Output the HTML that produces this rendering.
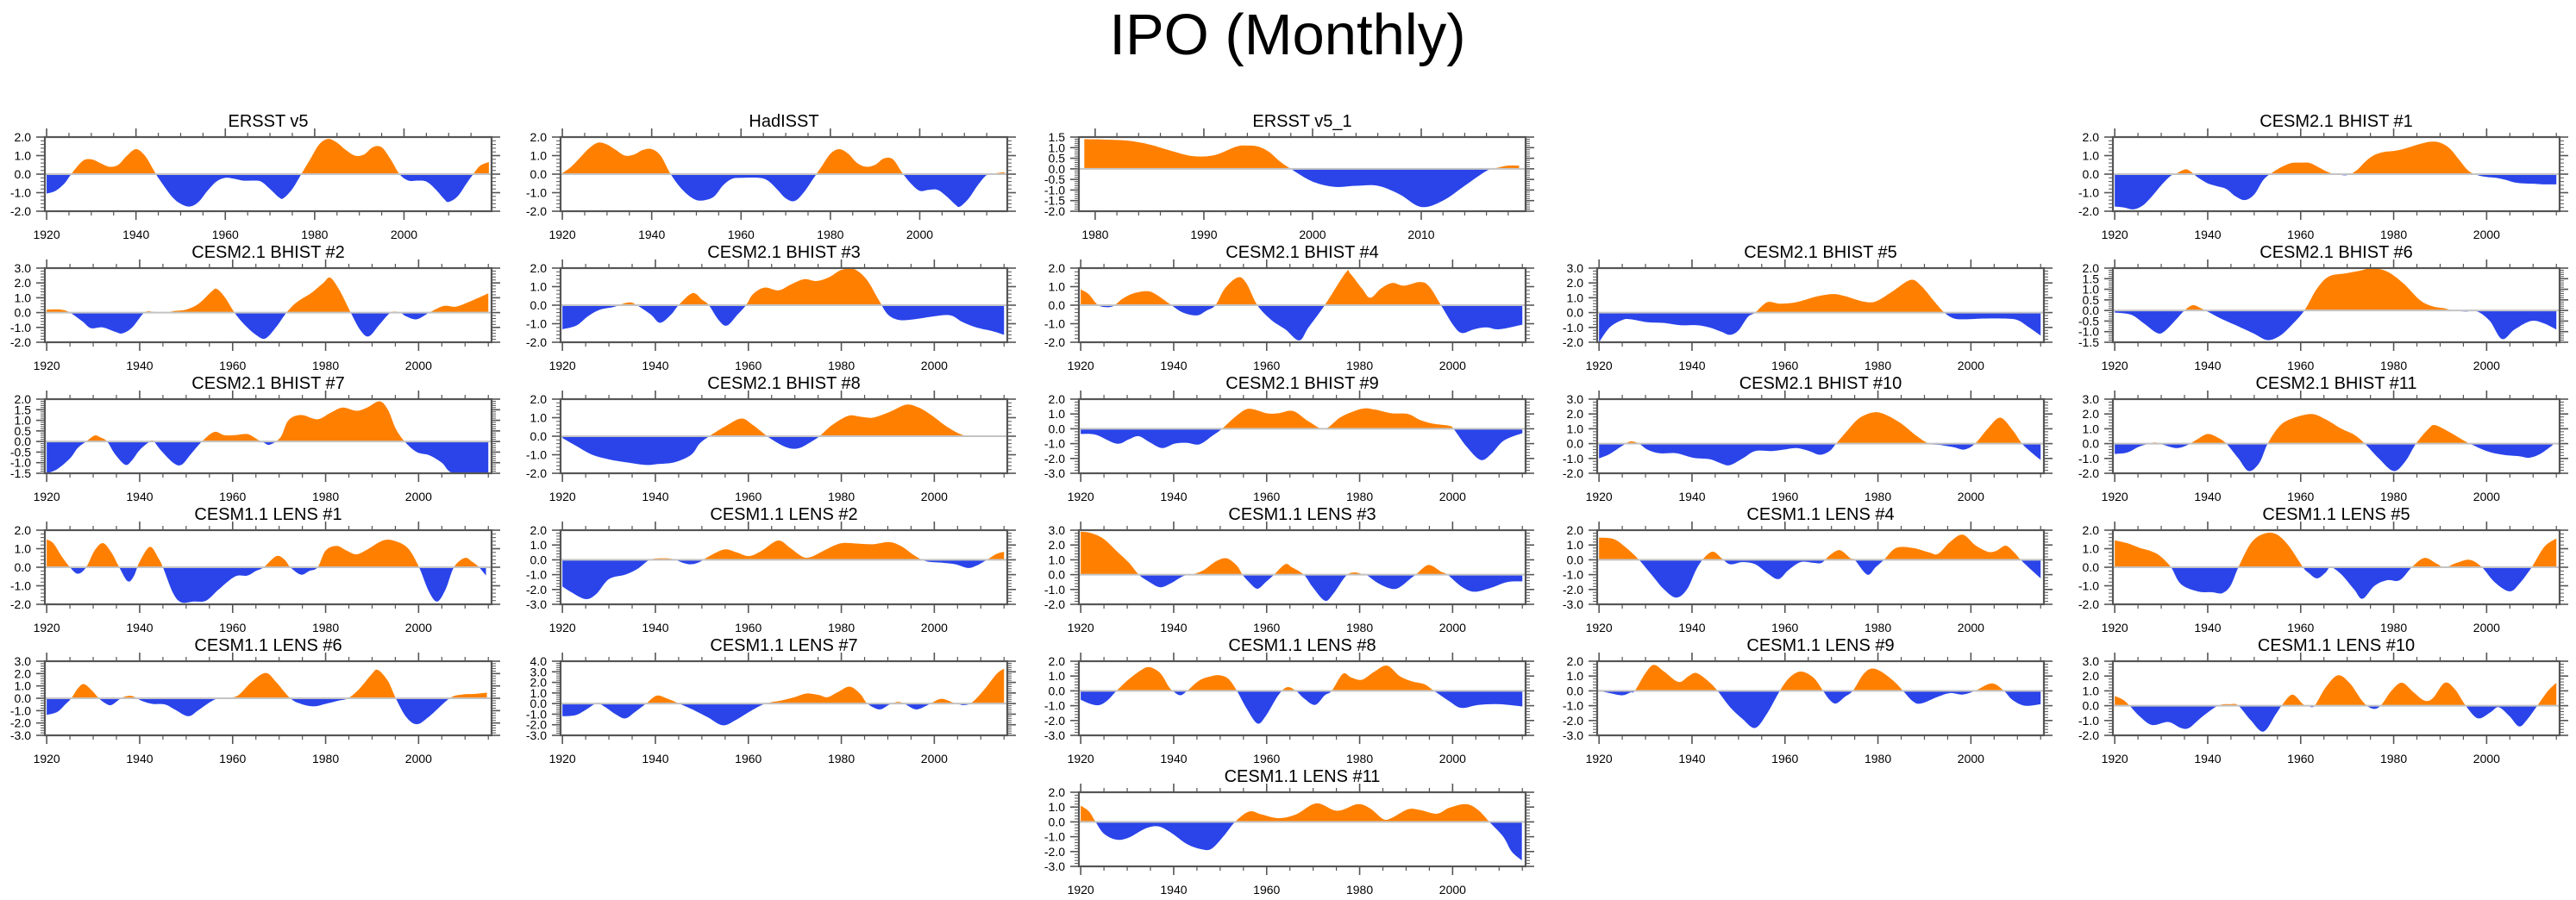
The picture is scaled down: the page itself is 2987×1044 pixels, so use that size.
<!DOCTYPE html>
<html><head><meta charset="utf-8"><title>IPO (Monthly)</title>
<style>
html,body{margin:0;padding:0;background:#fff;}
svg{display:block;font-family:"Liberation Sans",Arial,sans-serif;}
</style></head>
<body>
<svg id="fig" xmlns="http://www.w3.org/2000/svg" width="2987" height="1044" viewBox="0 0 2987 1044">
<rect x="0" y="0" width="2987" height="1044" fill="#fff"/>
<text x="1493" y="63" text-anchor="middle" font-size="67" fill="#000">IPO (Monthly)</text>
</svg>
<script>
// ---------- data (year, value) per panel ----------
const ersstYears=[1920,1922,1924,1925.5,1928,1930,1932,1934,1936,1938,1940,1942,1944,1945,1948,1950,1952,1954,1956,1958,1960,1962,1964,1966,1968,1970,1972,1973,1975,1977,1979,1981,1983,1985,1987,1989,1991,1993,1995,1997,1999,2001,2003,2005,2007,2009,2010,2012,2014,2015.5,2017,2019];
const ersstVals=[-1.05,-0.9,-0.5,0,0.7,0.8,0.6,0.4,0.5,1.0,1.35,1.0,0.2,-0.2,-1.2,-1.6,-1.75,-1.5,-0.9,-0.4,-0.2,-0.25,-0.35,-0.35,-0.4,-0.8,-1.25,-1.3,-0.8,0,0.8,1.6,1.9,1.7,1.3,1.0,1.05,1.45,1.45,0.8,0,-0.35,-0.35,-0.4,-0.8,-1.35,-1.5,-1.2,-0.5,0,0.45,0.65];
const hadYears=[1920,1922,1924,1926,1928,1930,1932,1934,1936,1938,1940,1942,1944,1946,1948,1950,1952,1954,1956,1958,1960,1964,1966,1968,1970,1972,1974,1976,1978,1980,1982,1984,1986,1988,1990,1992,1994,1996,1998,2000,2002,2004,2006,2008,2009,2011,2013,2015,2017,2019];
const hadVals=[0.05,0.4,0.9,1.4,1.7,1.6,1.3,1.0,1.05,1.3,1.35,1.0,0.1,-0.6,-1.1,-1.4,-1.4,-1.2,-0.6,-0.25,-0.2,-0.2,-0.35,-0.8,-1.3,-1.45,-1.0,-0.3,0.4,1.1,1.35,1.1,0.6,0.4,0.5,0.85,0.8,0.1,-0.5,-0.9,-0.85,-0.85,-1.2,-1.65,-1.75,-1.3,-0.6,-0.05,0.05,0.1];
const ersst1Years=[1979,1981,1983,1985,1987,1989,1991,1993,1994,1995,1996,1997,1998,2000,2002,2004,2006,2008,2010,2012,2014,2016,2017,2018,2019];
const ersst1Vals=[1.4,1.38,1.33,1.15,0.85,0.6,0.65,1.05,1.1,1.05,0.8,0.35,0,-0.6,-0.85,-0.8,-0.8,-1.2,-1.8,-1.5,-0.8,-0.1,0.05,0.15,0.15];
const bh1Years=[1920,1922,1924,1926,1928,1930,1932,1933,1935,1936,1937,1938,1940,1942,1944,1946,1948,1950,1952,1954,1956,1958,1960,1962,1964,1966,1968,1970,1972,1974,1976,1978,1980,1982,1984,1986,1988,1990,1992,1994,1996,1998,2000,2002,2004,2006,2008,2010,2012,2015];
const bh1Vals=[-1.75,-1.8,-1.9,-1.7,-1.2,-0.6,-0.1,0,0.25,0.2,0,-0.2,-0.5,-0.65,-0.8,-1.2,-1.4,-1.1,-0.3,0.1,0.4,0.6,0.62,0.6,0.35,0.1,-0.02,-0.05,0.2,0.7,1.05,1.2,1.25,1.35,1.5,1.65,1.75,1.7,1.4,0.8,0.2,-0.05,-0.15,-0.2,-0.3,-0.45,-0.5,-0.52,-0.55,-0.55];
const bh2Years=[1920,1923,1925,1927.7,1929.5,1932,1934.8,1936.3,1938.4,1941,1943,1945,1947.3,1950,1952.7,1955.4,1956.6,1958.4,1960.4,1962.5,1965,1967,1969.3,1971.6,1973.8,1976.8,1979.5,1981,1983,1985.4,1987.5,1989.3,1991.6,1994,1996,1997.3,1999.6,2002.3,2005.4,2008,2010.7,2015];
const bh2Vals=[0.2,0.2,0,-0.6,-1.05,-1.0,-1.3,-1.4,-1.0,0,0.05,-0.05,0.1,0.2,0.6,1.4,1.6,1.0,0,-0.8,-1.5,-1.75,-1.0,0,0.7,1.3,2.0,2.35,1.5,0,-1.2,-1.6,-0.8,0,0,-0.25,-0.45,0,0.45,0.4,0.7,1.3];
const bh3Years=[1920,1923,1925.5,1928,1931,1932.7,1934.5,1936,1939,1941,1943.4,1945,1948,1950,1951.5,1953.6,1955.4,1957.7,1959.5,1961,1963.5,1966.5,1969,1972,1974.6,1977.3,1980,1982.7,1985.4,1988,1990,1992.5,1996,2000,2003.5,2006,2009,2012.5,2015];
const bh3Vals=[-1.3,-1.1,-0.6,-0.25,-0.1,0.05,0.15,0,-0.5,-0.95,-0.5,0,0.65,0.3,0,-0.8,-1.1,-0.5,0,0.6,0.95,0.8,1.1,1.4,1.3,1.5,1.9,1.95,1.4,0.3,-0.5,-0.8,-0.75,-0.6,-0.55,-0.9,-1.2,-1.4,-1.6];
const bh4Years=[1920,1921.7,1923.5,1925,1927,1929,1931.5,1934.6,1937,1939.5,1942,1945,1947,1949,1951,1953.8,1955.6,1958,1961,1964,1967,1969,1972.5,1977,1978,1980.5,1982.3,1984.6,1987,1989.5,1993,1995,1997.5,2000.2,2002,2004.6,2007.3,2010,2015];
const bh4Vals=[0.85,0.6,0.05,-0.1,-0.05,0.35,0.65,0.75,0.45,0,-0.4,-0.55,-0.3,0,0.9,1.5,1.2,0,-0.8,-1.3,-1.9,-1.2,0,1.75,1.7,0.9,0.4,0.9,1.2,1.05,1.25,1.0,0,-1.1,-1.5,-1.3,-1.2,-1.3,-1.05];
const bh5Years=[1920,1922.3,1925,1926.8,1930.4,1934,1937.5,1941,1943.7,1946.4,1948.2,1950,1952,1953.6,1956.2,1959,1962.5,1967,1970.5,1973,1976.8,1979.5,1983,1987,1989.3,1992,1994.3,1996.4,1999,2002.7,2007,2010,2012.5,2015];
const bh5Vals=[-2.0,-1.0,-0.5,-0.45,-0.65,-0.7,-0.85,-0.85,-1.0,-1.3,-1.5,-1.2,-0.3,0,0.7,0.6,0.7,1.1,1.25,1.1,0.75,0.75,1.4,2.2,1.8,0.8,0,-0.4,-0.45,-0.4,-0.4,-0.5,-1.0,-1.55];
const bh6Years=[1920,1923.5,1926.2,1929,1930.6,1933.3,1935,1936.8,1938.6,1940.4,1943,1946.6,1950,1952.8,1955.5,1958,1960.8,1963.4,1966,1969.6,1973.2,1975,1978.5,1982,1985.6,1988.3,1991,1992.7,1995.4,1998,2000.7,2003.3,2006,2009.5,2012.2,2015];
const bh6Vals=[-0.1,-0.2,-0.6,-1.05,-1.0,-0.4,0,0.25,0.1,-0.1,-0.4,-0.75,-1.1,-1.4,-1.2,-0.7,0,1.0,1.6,1.75,1.9,2.0,1.85,1.3,0.5,0.2,0.1,0,-0.05,-0.05,-0.5,-1.35,-0.9,-0.5,-0.6,-0.9];
const bh7Years=[1920,1922.3,1925,1926.7,1928.5,1930.3,1931.5,1933,1934.7,1936.9,1938.3,1940,1942.2,1943,1944.5,1947.2,1949,1951,1953.4,1956,1958.2,1960.5,1963.2,1965.3,1966.7,1968,1970.3,1972,1974.7,1978.2,1981,1983.6,1986.6,1988.9,1991.6,1993.4,1995.1,1997,1999.6,2002.3,2005,2007.6,2015];
const bh7Vals=[-1.5,-1.3,-0.8,-0.3,0,0.28,0.2,0,-0.6,-1.1,-0.9,-0.4,0,0.02,-0.4,-1.0,-1.1,-0.6,0,0.45,0.3,0.3,0.35,0.1,-0.05,-0.15,0.2,1.0,1.25,1.05,1.35,1.6,1.45,1.6,1.9,1.5,0.6,0,-0.5,-0.65,-1.0,-1.5,-1.5];
const bh8Years=[1920,1922.8,1926.4,1930,1933.5,1938,1940.6,1944.2,1947.7,1949.5,1951.6,1954.8,1958.4,1961,1964.6,1968.2,1970.8,1973.5,1975.3,1978,1981.5,1984.1,1986.8,1990.3,1993.9,1996.6,1999.3,2002.8,2006.3,2009.9,2015];
const bh8Vals=[-0.1,-0.5,-1.0,-1.25,-1.4,-1.55,-1.5,-1.4,-1.0,-0.4,0,0.5,0.95,0.6,-0.1,-0.6,-0.65,-0.3,0,0.6,1.1,1.05,1.0,1.3,1.7,1.55,1.15,0.5,0.05,0.02,0.02];
const bh9Years=[1920,1923.2,1927.7,1930.4,1932.5,1934.8,1937.5,1940.2,1942.9,1945.5,1948.2,1950.4,1953.6,1956.2,1960,1962.5,1965.7,1969,1972.5,1976,1980.5,1983.2,1986.8,1990.4,1993,1995.7,1999.3,2000.2,2003,2006,2008.3,2011,2015];
const bh9Vals=[-0.35,-0.4,-1.0,-0.7,-0.5,-0.9,-1.3,-1.0,-0.95,-1.05,-0.5,0,0.9,1.35,1.05,1.05,1.2,0.5,0,0.8,1.35,1.3,1.05,1.0,0.6,0.35,0.2,0,-1.2,-2.1,-1.7,-0.8,-0.3];
const bh10Years=[1920,1922.3,1925,1926.8,1928.6,1930.4,1933,1936.6,1940.2,1943.8,1946.4,1948.2,1950.9,1953.6,1957.1,1959.8,1962.5,1965.2,1967.5,1969.6,1971,1973.2,1975.9,1978.9,1981.3,1984.8,1988.4,1991,1993.7,1996.4,1998.6,2000.9,2003.6,2006.3,2009,2011,2013.4,2015];
const bh10Vals=[-1.0,-0.7,-0.15,0.15,0,-0.4,-0.65,-0.65,-0.95,-1.05,-1.35,-1.45,-1.0,-0.5,-0.5,-0.4,-0.3,-0.5,-0.75,-0.5,0,0.8,1.7,2.1,2.0,1.4,0.5,0,-0.1,-0.25,-0.4,0,1.0,1.75,0.9,0,-0.7,-1.1];
const bh11Years=[1920,1922.7,1925.3,1928,1929.2,1930.7,1933.3,1935.6,1937.8,1940,1942.2,1944,1946.6,1948.8,1951.1,1952.9,1955.5,1958.2,1962.3,1965.3,1968.8,1971.5,1973.8,1976.8,1980,1982.5,1984.8,1987.5,1988.9,1991.9,1994.6,1996.4,2000,2003.5,2007,2009.2,2011.5,2014.2];
const bh11Vals=[-0.7,-0.6,-0.2,0.05,0.05,-0.1,-0.3,-0.1,0.3,0.65,0.4,0,-1.0,-1.85,-1.3,0,1.2,1.7,2.0,1.65,1.0,0.6,0,-1.0,-1.85,-1.2,0,1.0,1.25,0.8,0.3,0,-0.5,-0.75,-0.85,-0.95,-0.7,-0.1];
const le1Years=[1920,1921.4,1923.2,1925,1926.7,1928.5,1930.3,1932.1,1933.9,1935.6,1937.4,1938.7,1940,1942.2,1944,1945,1947.2,1949,1951.6,1954.3,1957,1960.5,1963.2,1965,1966.7,1969.4,1971.2,1972.4,1974.7,1976.5,1978.3,1980,1982.4,1984.5,1986.6,1988.9,1992.4,1995.1,1997.8,2000.1,2002.2,2004,2005.8,2007.6,2009.9,2011.5,2013,2014.5];
const le1Vals=[1.5,1.3,0.6,0,-0.35,0,0.9,1.3,0.8,0,-0.75,-0.5,0.3,1.1,0.5,0,-1.4,-1.9,-1.85,-1.8,-1.2,-0.5,-0.45,-0.2,0,0.6,0.4,0,-0.4,-0.2,0,0.9,1.15,0.9,0.7,0.95,1.45,1.4,1.0,0,-1.3,-1.85,-1.2,0,0.5,0.3,0,-0.45];
const le2Years=[1920,1922,1925,1927.3,1930,1933.5,1936.2,1938.8,1941.5,1943.8,1945.9,1947.7,1949.5,1951.3,1954.8,1957.5,1960.1,1962.8,1966.4,1969,1971.7,1973.5,1976.1,1979.7,1983.2,1986.8,1990.3,1993,1995.7,1998.3,2001.9,2004.5,2007.2,2009,2011.3,2013.4,2015];
const le2Vals=[-1.8,-2.2,-2.65,-2.3,-1.3,-1.0,-0.6,0,0.1,0.05,-0.2,-0.3,-0.15,0.2,0.7,0.5,0.25,0.6,1.3,0.8,0.2,0.2,0.6,1.1,1.1,1.05,1.2,0.9,0.3,-0.1,-0.2,-0.3,-0.55,-0.4,0,0.4,0.55];
const le3Years=[1920,1922.3,1925,1927.7,1930.4,1932.5,1934.8,1937.1,1939.3,1942,1943.8,1946.4,1949.1,1951.4,1953.6,1954.8,1956.2,1958,1959.8,1961.6,1964,1965.4,1968,1969.8,1972.5,1974.3,1977,1978.8,1980.5,1981.4,1984.1,1986.8,1988.6,1991.2,1992.1,1994.8,1997.5,1998.9,2001.9,2004.6,2008.1,2011.7,2015];
const le3Vals=[2.9,2.8,2.4,1.6,0.8,0,-0.5,-0.85,-0.6,-0.1,0,0.3,0.9,1.1,0.6,0,-0.5,-0.95,-0.5,0,0.7,0.5,0,-0.8,-1.75,-1.3,-0.1,0.15,0.05,0,-0.6,-0.95,-0.85,-0.2,0,0.65,0.2,0,-0.8,-1.15,-0.9,-0.5,-0.45];
const le4Years=[1920,1923.2,1925.9,1928.6,1931.3,1934,1936.6,1938.9,1941,1942.8,1944.6,1946.4,1948.2,1950.9,1953.6,1956.2,1958.6,1960.7,1963.4,1966.1,1967.9,1969.6,1971.8,1974.1,1975,1977.7,1979.5,1981.3,1983.9,1987.5,1991,1992.9,1995.5,1998.2,2000.9,2003.6,2005.4,2007.5,2009.3,2010.7,2013.4,2015];
const le4Vals=[1.5,1.4,0.8,0,-1.0,-2.0,-2.55,-2.0,-0.6,0.2,0.55,0.1,-0.3,-0.15,-0.3,-0.9,-1.3,-0.7,-0.15,-0.2,-0.2,0.3,0.65,0.1,0,-1.0,-0.5,0,0.8,0.8,0.5,0.4,1.2,1.7,1.0,0.55,0.6,0.95,0.5,0,-0.8,-1.25];
const le5Years=[1920,1922.7,1925.3,1928,1929.8,1932.1,1934.2,1937.8,1941,1943.1,1944.9,1946.6,1949.3,1952,1954.6,1957.3,1960.5,1961.7,1963.5,1965.3,1966.5,1968.8,1971.5,1973.3,1975.9,1978.6,1981.3,1983.9,1986.6,1989.2,1991,1993.7,1996.4,1999,2001.7,2004.9,2007,2009.7,2012.4,2015];
const le5Vals=[1.45,1.3,1.05,0.85,0.6,0,-0.9,-1.3,-1.35,-1.4,-1.0,0,1.3,1.8,1.8,1.2,0,-0.3,-0.6,-0.3,0,-0.4,-1.2,-1.7,-1.0,-0.7,-0.7,0,0.5,0.2,0,0.25,0.4,0,-0.8,-1.3,-0.9,0,1.1,1.55];
const le6Years=[1920,1922.3,1924,1925.3,1926.7,1928,1929.8,1931.2,1932.6,1933.9,1935.6,1936.5,1938,1939.2,1940.4,1942.7,1945.4,1947.5,1950.4,1952.5,1955.2,1957,1959.6,1961.4,1964,1967.1,1969.4,1972.4,1974.7,1977.4,1980,1982.7,1984.8,1987.1,1989.8,1991.2,1993.4,1995.1,1997.3,1999.6,2002.2,2006.7,2009.3,2012,2014.7];
const le6Vals=[-1.35,-1.1,-0.5,0,0.8,1.15,0.6,0,-0.4,-0.55,-0.1,0.1,0.2,0.05,-0.2,-0.45,-0.5,-0.9,-1.45,-1.0,-0.3,0,0.05,0.3,1.3,2.05,1.3,0,-0.45,-0.65,-0.45,-0.2,0,0.7,1.9,2.3,1.4,0,-1.5,-2.1,-1.5,0,0.3,0.35,0.45];
const le7Years=[1920,1922.8,1925,1927.3,1929.1,1931.4,1933.5,1935.6,1938,1940.3,1942.4,1945.1,1947.7,1951.3,1954.5,1957.5,1960.5,1963.7,1967.2,1969.9,1972.5,1975.2,1977,1979.3,1981.8,1984.1,1985.6,1988.2,1990.3,1992.1,1993.5,1996,1998.3,1999.2,2001.5,2004,2004.9,2006.3,2008.1,2010.7,2013.4,2015];
const le7Vals=[-1.2,-1.1,-0.6,0,-0.3,-1.0,-1.4,-0.8,0,0.75,0.5,0,-0.5,-1.3,-2.05,-1.5,-0.7,0,0.3,0.6,0.95,0.8,0.6,1.1,1.6,0.9,0,-0.55,-0.1,0.15,0,-0.55,-0.2,0,0.45,0.1,0,-0.15,0.1,1.3,2.8,3.3];
const le8Years=[1920,1922.3,1924.1,1925.9,1927.7,1930.4,1933,1934.8,1937.1,1938.9,1939.8,1941.4,1942.9,1945.5,1948.2,1950,1951.8,1953.6,1955.7,1958,1959.8,1962.5,1964.4,1966.3,1968,1970.4,1972.5,1974,1976.4,1978.2,1980.5,1983.2,1985.9,1988.6,1991.2,1993.9,1996,1999.3,2001.9,2005.5,2010,2015];
const le8Vals=[-0.6,-0.9,-0.95,-0.6,0,0.8,1.4,1.6,1.2,0.3,0,-0.3,0,0.7,1.0,1.05,0.8,0,-1.2,-2.2,-1.7,-0.3,0.25,0,-0.5,-0.95,-0.3,0,1.15,0.9,0.75,1.3,1.7,1.0,0.65,0.45,0,-0.7,-1.15,-0.95,-0.9,-1.05];
const le9Years=[1920,1922.3,1925,1926.8,1927.7,1930,1931.8,1934,1937.1,1939.3,1941,1943.7,1945.5,1948.2,1950.9,1953.6,1956.2,1958.9,1961,1963.4,1966.1,1968.2,1969.6,1971,1972.9,1974.6,1976.8,1978.6,1980.7,1983.6,1985.4,1987.5,1989.3,1992.9,1995.5,1998.2,2000.9,2004.5,2007.1,2008.9,2011.6,2015];
const le9Vals=[0,-0.15,-0.3,-0.1,0,1.2,1.75,1.3,0.6,1.0,1.2,0.6,0,-1.1,-1.9,-2.5,-1.5,0,0.9,1.3,0.9,0,-0.6,-0.85,-0.4,0,1.1,1.5,1.3,0.6,0,-0.7,-0.85,-0.4,-0.15,-0.25,0,0.5,0,-0.6,-1.0,-0.9];
const le10Years=[1920,1921.8,1923.2,1925.3,1928,1931.5,1934.2,1936,1938.6,1942.2,1944.9,1946.6,1949.3,1952,1954.6,1955.9,1958.2,1960.5,1961.7,1963,1965.3,1968,1970.6,1973.3,1975.4,1977.2,1979.5,1981.8,1984.3,1986.6,1988.4,1991,1993.2,1995.5,1998.1,2000.8,2002.6,2004.9,2007,2008.8,2010.9,2013.2,2015];
const le10Vals=[0.65,0.4,0,-0.7,-1.3,-1.1,-1.5,-1.5,-0.8,0,0.1,0,-1.0,-1.75,-0.6,0,0.75,0.1,-0.02,0,1.2,2.05,1.5,0.3,-0.2,0,1.0,1.55,0.9,0.35,0.5,1.55,1.1,0,-0.85,-0.45,-0.1,-0.7,-1.4,-0.9,0,1.0,1.55];
const le11Years=[1920,1921.8,1923.2,1925,1927.7,1930.4,1933.9,1936.6,1939.3,1942.9,1946.1,1948.2,1950.9,1953.2,1956.2,1958.9,1962.5,1966.3,1970.7,1975.2,1979.6,1982.3,1985,1986.8,1990.4,1993,1996.6,1999.3,2002.9,2005.5,2007.9,2010.9,2012.7,2014.9];
const le11Vals=[1.1,0.7,0,-0.8,-1.2,-1.05,-0.45,-0.3,-0.7,-1.5,-1.85,-1.8,-0.9,0,0.7,0.5,0.25,0.5,1.25,0.75,1.2,0.9,0.2,0.25,0.85,0.8,0.55,0.95,1.2,0.8,0,-1.0,-2.0,-2.6];

// ---------- panel configuration ----------
const COLX=[52,650,1251,1852,2450];
const ROWY=[159,311,463,615,767,919];
const BW=518, BH=86;
const LONG=[1919.6,2019.6], CESM=[1919.6,2015.7], SHORT=[1978.5,2019.6];
const panels=[
 {name:'ersst-v5',title:'ERSST v5',c:0,r:0,yr:[-2,2],ys:1,xr:LONG,x:ersstYears,v:ersstVals},
 {name:'hadisst',title:'HadISST',c:1,r:0,yr:[-2,2],ys:1,xr:LONG,x:hadYears,v:hadVals},
 {name:'ersst-v5-1',title:'ERSST v5_1',c:2,r:0,yr:[-2,1.5],ys:0.5,xr:SHORT,x:ersst1Years,v:ersst1Vals},
 {name:'bhist-1',title:'CESM2.1 BHIST #1',c:4,r:0,yr:[-2,2],ys:1,xr:CESM,x:bh1Years,v:bh1Vals},
 {name:'bhist-2',title:'CESM2.1 BHIST #2',c:0,r:1,yr:[-2,3],ys:1,xr:CESM,x:bh2Years,v:bh2Vals},
 {name:'bhist-3',title:'CESM2.1 BHIST #3',c:1,r:1,yr:[-2,2],ys:1,xr:CESM,x:bh3Years,v:bh3Vals},
 {name:'bhist-4',title:'CESM2.1 BHIST #4',c:2,r:1,yr:[-2,2],ys:1,xr:CESM,x:bh4Years,v:bh4Vals},
 {name:'bhist-5',title:'CESM2.1 BHIST #5',c:3,r:1,yr:[-2,3],ys:1,xr:CESM,x:bh5Years,v:bh5Vals},
 {name:'bhist-6',title:'CESM2.1 BHIST #6',c:4,r:1,yr:[-1.5,2],ys:0.5,xr:CESM,x:bh6Years,v:bh6Vals},
 {name:'bhist-7',title:'CESM2.1 BHIST #7',c:0,r:2,yr:[-1.5,2],ys:0.5,xr:CESM,x:bh7Years,v:bh7Vals},
 {name:'bhist-8',title:'CESM2.1 BHIST #8',c:1,r:2,yr:[-2,2],ys:1,xr:CESM,x:bh8Years,v:bh8Vals},
 {name:'bhist-9',title:'CESM2.1 BHIST #9',c:2,r:2,yr:[-3,2],ys:1,xr:CESM,x:bh9Years,v:bh9Vals},
 {name:'bhist-10',title:'CESM2.1 BHIST #10',c:3,r:2,yr:[-2,3],ys:1,xr:CESM,x:bh10Years,v:bh10Vals},
 {name:'bhist-11',title:'CESM2.1 BHIST #11',c:4,r:2,yr:[-2,3],ys:1,xr:CESM,x:bh11Years,v:bh11Vals},
 {name:'lens-1',title:'CESM1.1 LENS #1',c:0,r:3,yr:[-2,2],ys:1,xr:CESM,x:le1Years,v:le1Vals},
 {name:'lens-2',title:'CESM1.1 LENS #2',c:1,r:3,yr:[-3,2],ys:1,xr:CESM,x:le2Years,v:le2Vals},
 {name:'lens-3',title:'CESM1.1 LENS #3',c:2,r:3,yr:[-2,3],ys:1,xr:CESM,x:le3Years,v:le3Vals},
 {name:'lens-4',title:'CESM1.1 LENS #4',c:3,r:3,yr:[-3,2],ys:1,xr:CESM,x:le4Years,v:le4Vals},
 {name:'lens-5',title:'CESM1.1 LENS #5',c:4,r:3,yr:[-2,2],ys:1,xr:CESM,x:le5Years,v:le5Vals},
 {name:'lens-6',title:'CESM1.1 LENS #6',c:0,r:4,yr:[-3,3],ys:1,xr:CESM,x:le6Years,v:le6Vals},
 {name:'lens-7',title:'CESM1.1 LENS #7',c:1,r:4,yr:[-3,4],ys:1,xr:CESM,x:le7Years,v:le7Vals},
 {name:'lens-8',title:'CESM1.1 LENS #8',c:2,r:4,yr:[-3,2],ys:1,xr:CESM,x:le8Years,v:le8Vals},
 {name:'lens-9',title:'CESM1.1 LENS #9',c:3,r:4,yr:[-3,2],ys:1,xr:CESM,x:le9Years,v:le9Vals},
 {name:'lens-10',title:'CESM1.1 LENS #10',c:4,r:4,yr:[-2,3],ys:1,xr:CESM,x:le10Years,v:le10Vals},
 {name:'lens-11',title:'CESM1.1 LENS #11',c:2,r:5,yr:[-3,2],ys:1,xr:CESM,x:le11Years,v:le11Vals}
];

const NS='http://www.w3.org/2000/svg';
const svg=document.getElementById('fig');
function mk(tag,attrs,parent){const e=document.createElementNS(NS,tag);for(const k in attrs)e.setAttribute(k,attrs[k]);(parent||svg).appendChild(e);return e;}
function fmt(v){return (Math.abs(v)<1e-9?0:v).toFixed(1);}
function smoothPath(pts){
  let d='M'+pts[0][0].toFixed(2)+','+pts[0][1].toFixed(2);
  for(let i=0;i<pts.length-1;i++){
    const p0=pts[Math.max(0,i-1)],p1=pts[i],p2=pts[i+1],p3=pts[Math.min(pts.length-1,i+2)];
    const c1=[p1[0]+(p2[0]-p0[0])/6,p1[1]+(p2[1]-p0[1])/6];
    const c2=[p2[0]-(p3[0]-p1[0])/6,p2[1]-(p3[1]-p1[1])/6];
    d+=' C'+c1[0].toFixed(2)+','+c1[1].toFixed(2)+' '+c2[0].toFixed(2)+','+c2[1].toFixed(2)+' '+p2[0].toFixed(2)+','+p2[1].toFixed(2);
  }
  return d;
}
const defs=mk('defs',{});
panels.forEach((p,idx)=>{
  const L=COLX[p.c],T=ROWY[p.r];
  const g=mk('g',{});
  
  
  const sx=yr=>L+(yr-p.xr[0])/(p.xr[1]-p.xr[0])*BW;
  const sy=v=>T+(p.yr[1]-v)/(p.yr[1]-p.yr[0])*BH;
  const z=sy(0);
  // clips
  const ca=mk('clipPath',{id:'ca'+idx},defs); mk('rect',{x:L,y:T,width:BW,height:z-T},ca);
  const cb=mk('clipPath',{id:'cb'+idx},defs); mk('rect',{x:L,y:z,width:BW,height:T+BH-z},cb);
  const pts=p.x.map((yr,i)=>[sx(yr),sy(p.v[i])]);
  const d=smoothPath(pts)+' L'+pts[pts.length-1][0].toFixed(2)+','+z.toFixed(2)+' L'+pts[0][0].toFixed(2)+','+z.toFixed(2)+' Z';
  const pos=mk('path',{d:d,fill:'#ff8000','clip-path':'url(#ca'+idx+')'},g);
  
  
  const neg=mk('path',{d:d,fill:'#2a44ea','clip-path':'url(#cb'+idx+')'},g);
  
  
  const zl=mk('line',{x1:L,x2:L+BW,y1:z,y2:z,stroke:'#c4c4c4','stroke-width':2},g);
  
  
  // x ticks
  const majX=(p.xr===SHORT)?10:20, minX=(p.xr===SHORT)?2:5;
  for(let yr=Math.ceil(p.xr[0]/minX)*minX;yr<=p.xr[1];yr+=minX){
    const X=sx(yr),maj=(yr%majX===0),len=maj?10:5;
    mk('line',{x1:X,x2:X,y1:T+BH,y2:T+BH+len,stroke:'#555','stroke-width':maj?1.6:1.2},g);
    mk('line',{x1:X,x2:X,y1:T,y2:T-len,stroke:'#555','stroke-width':maj?1.6:1.2},g);
    if(maj){
      const t=mk('text',{x:X,y:T+BH+32,'text-anchor':'middle','font-size':14,fill:'#000'},g);
      t.textContent=yr;
      
      
    }
  }
  // y ticks
  const minY=p.ys/5;
  const n=Math.round((p.yr[1]-p.yr[0])/minY);
  for(let i=0;i<=n;i++){
    const v=p.yr[0]+i*minY,Y=sy(v);
    const maj=(i%5===0),len=maj?10:5;
    mk('line',{x1:L,x2:L-len,y1:Y,y2:Y,stroke:'#555','stroke-width':maj?1.6:1},g);
    mk('line',{x1:L+BW,x2:L+BW+len,y1:Y,y2:Y,stroke:'#555','stroke-width':maj?1.6:1},g);
    if(maj){
      const t=mk('text',{x:L-16,y:Y+5,'text-anchor':'end','font-size':14,fill:'#000'},g);
      t.textContent=fmt(v);
      
      
    }
  }
  const box=mk('rect',{x:L,y:T,width:BW,height:BH,fill:'none',stroke:'#555','stroke-width':2.2},g);
  
  
  const tt=mk('text',{x:L+BW/2,y:T-12,'text-anchor':'middle','font-size':20,fill:'#000'},g);
  tt.textContent=p.title;
  
  
});
</script>
</body></html>
